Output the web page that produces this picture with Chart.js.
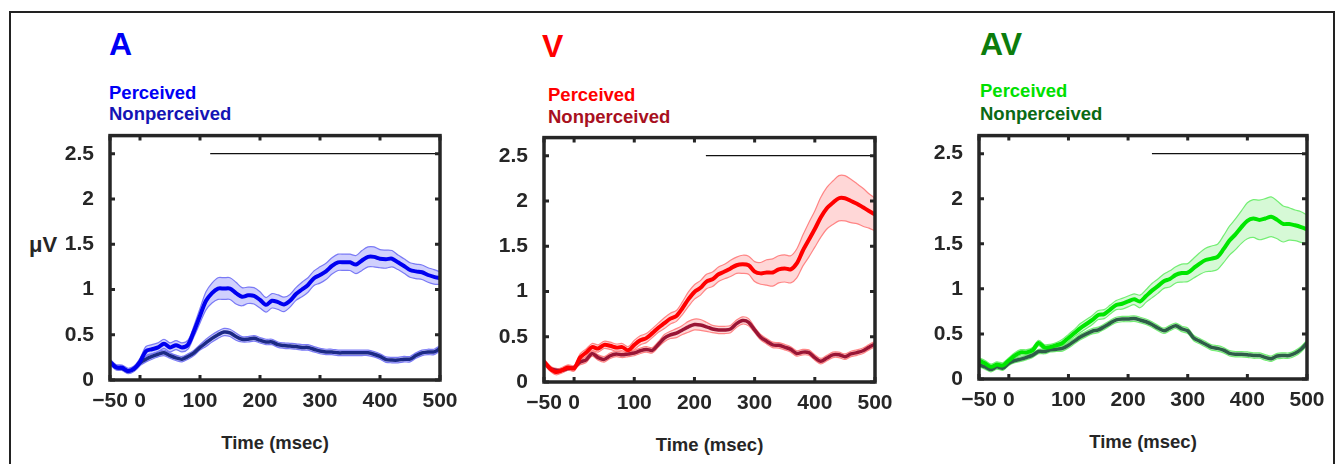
<!DOCTYPE html>
<html>
<head>
<meta charset="utf-8">
<script src="https://cdn.jsdelivr.net/npm/chart.js@4.4.1/dist/chart.umd.min.js"></script>
<style>
body{margin:0;background:#fff;width:1337px;height:464px;overflow:hidden;position:relative;font-family:"Liberation Sans",Arial,sans-serif;font-weight:bold;}
#frame{position:absolute;left:9px;top:11px;width:1322px;height:500px;border:2px solid #222;}
.t{position:absolute;line-height:1;white-space:nowrap;}
.big{font-size:32px;}
.leg{font-size:18.5px;}
.xl{font-size:18.5px;color:#262626;width:330px;text-align:center;}
canvas{position:absolute;}
</style>
</head>
<body>
<div id="frame"></div>

<div class="t big" style="left:109px;top:28px;color:#0000f5">A</div>
<div class="t leg" style="left:109px;top:84px;color:#0000f5">Perceived</div>
<div class="t leg" style="left:109px;top:105px;color:#1414b4">Nonperceived</div>
<div class="t" style="left:29px;top:234px;font-size:22px;color:#262626">μV</div>
<div class="t xl" style="left:110px;top:434px">Time (msec)</div>

<div class="t big" style="left:542px;top:30px;color:#ff0000">V</div>
<div class="t leg" style="left:548px;top:86px;color:#ff0000">Perceived</div>
<div class="t leg" style="left:548px;top:108px;color:#a8101e">Nonperceived</div>
<div class="t xl" style="left:544px;top:436px;width:331px">Time (msec)</div>

<div class="t big" style="left:980px;top:28px;color:#0c7c0c">AV</div>
<div class="t leg" style="left:980px;top:82px;color:#00e000">Perceived</div>
<div class="t leg" style="left:980px;top:105px;color:#0a6a14">Nonperceived</div>
<div class="t xl" style="left:979px;top:433px;width:328px">Time (msec)</div>

<canvas id="chartA"></canvas>
<canvas id="chartV"></canvas>
<canvas id="chartAV"></canvas>

<script>
// time axis (msec)
const times = [-50,-40,-30,-20,-10,0,10,20,30,40,50,60,70,80,
90,100,110,120,130,140,150,160,
170,180,190,200,210,220,230,240,250,
260,270,280,290,300,310,320,330,340,350,
360,370,380,390,400,410,420,430,440,450,460,470,480,490,500];

const xTicks = [-50,0,100,200,300,400,500];
const yTicks = [0,0.5,1,1.5,2,2.5];

// A
const aPerceived = [0.2,0.14,0.135,0.1,0.125,0.2,0.32,0.34,0.36,0.4,0.36,0.385,0.36,0.39,
0.54,0.71,0.875,0.96,1.01,1.01,1.01,0.96,
0.92,0.935,0.93,0.885,0.83,0.875,0.86,0.835,0.875,
0.95,1.0,1.05,1.125,1.16,1.2,1.26,1.3,1.3,1.3,
1.275,1.32,1.36,1.36,1.34,1.335,1.34,1.3,1.26,1.215,1.2,1.19,1.16,1.14,1.125];
const aPerceivedSem = [0.03,0.03,0.03,0.03,0.03,0.04,0.05,0.05,0.05,0.05,0.05,0.05,0.05,0.05,
0.06,0.08,0.1,0.11,0.12,0.12,0.12,0.12,
0.1,0.09,0.09,0.09,0.08,0.08,0.08,0.08,0.07,
0.07,0.08,0.08,0.08,0.09,0.09,0.09,0.09,0.09,0.09,
0.1,0.11,0.11,0.11,0.1,0.1,0.09,0.08,0.08,0.08,0.08,0.08,0.08,0.08,0.07];
const aNonperceived = [0.2,0.14,0.13,0.1,0.12,0.19,0.23,0.26,0.285,0.3,0.27,0.245,0.23,0.26,
0.3,0.36,0.41,0.46,0.5,0.53,0.52,0.48,
0.45,0.45,0.46,0.44,0.42,0.42,0.39,0.38,0.375,
0.37,0.36,0.36,0.34,0.32,0.31,0.31,0.3,0.3,0.3,
0.3,0.3,0.3,0.285,0.26,0.225,0.22,0.22,0.23,0.23,0.27,0.3,0.31,0.31,0.35];
const aNonperceivedSem = [0.02,0.02,0.02,0.02,0.02,0.03,0.03,0.03,0.03,0.03,0.03,0.03,0.03,0.03,
0.03,0.03,0.04,0.04,0.04,0.04,0.04,0.04,
0.03,0.03,0.03,0.03,0.03,0.03,0.03,0.03,0.03,
0.03,0.03,0.03,0.03,0.03,0.03,0.03,0.03,0.03,0.03,
0.03,0.03,0.03,0.03,0.03,0.03,0.03,0.03,0.03,0.03,0.03,0.03,0.03,0.03,0.03];
const aSig = [117,500];

// V
const vPerceived = [0.225,0.15,0.11,0.13,0.16,0.15,0.27,0.325,0.385,0.37,0.41,0.4,0.38,0.385,
0.35,0.41,0.46,0.485,0.54,0.6,0.65,0.7,
0.73,0.815,0.915,0.995,1.04,1.11,1.135,1.19,1.22,
1.255,1.29,1.3,1.29,1.22,1.2,1.21,1.21,1.245,1.255,
1.245,1.31,1.45,1.57,1.69,1.82,1.92,1.98,2.03,2.03,2.0,1.97,1.93,1.89,1.85];
const vPerceivedSem = [0.03,0.03,0.03,0.03,0.03,0.03,0.04,0.04,0.04,0.04,0.04,0.04,0.04,0.04,
0.04,0.05,0.05,0.05,0.05,0.05,0.06,0.06,
0.06,0.07,0.08,0.08,0.08,0.08,0.08,0.08,0.08,
0.09,0.09,0.1,0.1,0.11,0.12,0.14,0.15,0.15,0.15,
0.15,0.16,0.17,0.19,0.2,0.22,0.23,0.24,0.25,0.25,0.24,0.22,0.21,0.19,0.18];
const vNonperceived = [0.22,0.15,0.13,0.13,0.15,0.16,0.22,0.245,0.315,0.27,0.25,0.29,0.31,0.3,
0.31,0.32,0.345,0.36,0.35,0.415,0.485,0.52,
0.54,0.575,0.61,0.635,0.63,0.61,0.585,0.575,0.575,
0.585,0.645,0.68,0.66,0.575,0.495,0.45,0.41,0.405,0.385,
0.36,0.315,0.33,0.325,0.27,0.23,0.265,0.3,0.3,0.28,0.31,0.325,0.345,0.385,0.42];
const vNonperceivedSem = [0.02,0.02,0.02,0.02,0.02,0.02,0.03,0.03,0.03,0.03,0.03,0.03,0.03,0.03,
0.03,0.03,0.03,0.03,0.03,0.03,0.04,0.04,
0.05,0.05,0.06,0.06,0.06,0.05,0.04,0.04,0.04,
0.04,0.04,0.04,0.04,0.03,0.03,0.03,0.03,0.03,0.03,
0.03,0.03,0.03,0.03,0.03,0.03,0.03,0.03,0.03,0.03,0.03,0.03,0.03,0.03,0.03];
const vSig = [219,500];

// AV
const avPerceived = [0.205,0.175,0.135,0.16,0.15,0.205,0.26,0.295,0.295,0.32,0.4,0.35,0.355,0.375,
0.4,0.455,0.51,0.565,0.61,0.655,0.71,0.72,
0.77,0.82,0.835,0.86,0.885,0.86,0.92,0.98,1.03,
1.085,1.11,1.155,1.175,1.18,1.23,1.28,1.32,1.335,1.355,
1.44,1.535,1.605,1.685,1.755,1.78,1.765,1.78,1.8,1.765,1.72,1.72,1.705,1.685,1.66];
const avPerceivedSem = [0.03,0.03,0.03,0.03,0.03,0.03,0.03,0.03,0.03,0.03,0.03,0.03,0.03,0.03,
0.04,0.04,0.04,0.05,0.05,0.05,0.05,0.05,
0.05,0.05,0.06,0.06,0.06,0.07,0.07,0.08,0.08,
0.08,0.09,0.09,0.1,0.1,0.11,0.12,0.13,0.14,0.14,
0.15,0.16,0.17,0.18,0.2,0.21,0.22,0.22,0.22,0.21,0.2,0.18,0.17,0.17,0.16];
const avNonperceived = [0.16,0.135,0.105,0.135,0.12,0.175,0.205,0.22,0.24,0.265,0.305,0.305,0.325,0.33,
0.34,0.375,0.42,0.465,0.5,0.53,0.545,0.58,
0.62,0.655,0.665,0.665,0.67,0.655,0.635,0.605,0.565,
0.535,0.565,0.59,0.555,0.535,0.455,0.42,0.385,0.35,0.34,
0.32,0.285,0.275,0.275,0.27,0.26,0.26,0.24,0.225,0.255,0.26,0.26,0.285,0.33,0.4];
const avNonperceivedSem = [0.025,0.025,0.025,0.025,0.025,0.025,0.025,0.025,0.025,0.025,0.025,0.025,0.025,0.025,
0.03,0.03,0.03,0.03,0.03,0.03,0.03,0.03,
0.03,0.03,0.03,0.03,0.03,0.03,0.03,0.03,0.03,
0.03,0.03,0.03,0.03,0.03,0.03,0.03,0.03,0.03,0.03,
0.03,0.03,0.03,0.03,0.03,0.03,0.03,0.03,0.03,0.03,0.03,0.03,0.03,0.03,0.03];
const avSig = [240,500];


const axisColor = "#262626";
const tickFont = {family:"'Liberation Sans', Arial, sans-serif", size:21, weight:"bold"};

// matlab style box with inward ticks on all four sides
const boxAxes = {
  id:"boxAxes",
  afterDraw(chart){
    const ctx = chart.ctx;
    const a = chart.chartArea;
    const x = chart.scales.x;
    const y = chart.scales.y;
    ctx.save();
    ctx.strokeStyle = axisColor;
    ctx.lineWidth = 3;
    ctx.beginPath();
    xTicks.forEach(v => {
      let px = x.getPixelForValue(v);
      ctx.moveTo(px,a.bottom); ctx.lineTo(px,a.bottom-5);
      ctx.moveTo(px,a.top); ctx.lineTo(px,a.top+5);
    });
    yTicks.forEach(v => {
      let py = y.getPixelForValue(v);
      ctx.moveTo(a.left,py); ctx.lineTo(a.left+5,py);
      ctx.moveTo(a.right,py); ctx.lineTo(a.right-5,py);
    });
    ctx.stroke();
    ctx.lineWidth = 3.5;
    ctx.strokeRect(a.left,a.top,a.right-a.left,a.bottom-a.top);
    ctx.restore();
  }
};

function pts(vals){
  return times.map((t,i) => ({x:t, y:vals[i]}));
}
function band(vals,sem,sign){
  return times.map((t,i) => ({x:t, y:vals[i]+sign*sem[i]}));
}

function makePanel(id, box, perc, percSem, non, nonSem, sig, c){
  const padL = 80, padT = 14, padR = 30, padB = 40;
  const el = document.getElementById(id);
  el.width = box.right-box.left+padL+padR;
  el.height = box.bottom-box.top+padT+padB;
  el.style.left = (box.left-padL)+"px";
  el.style.top = (box.top-padT)+"px";

  const edge = {borderColor:c.edge, borderWidth:1.2, pointRadius:0, tension:0.3};

  return new Chart(el,{
    type:"line",
    data:{
      datasets:[
        {data:pts(perc), borderColor:c.perc, borderWidth:4, pointRadius:0, tension:0.3, fill:false},
        {data:pts(non), borderColor:c.non, borderWidth:3.5, pointRadius:0, tension:0.3, fill:false},
        {data:[{x:sig[0],y:2.5},{x:sig[1],y:2.5}], borderColor:"#111", borderWidth:1.3, pointRadius:0, fill:false},
        Object.assign({data:band(perc,percSem,1), fill:false}, edge),
        Object.assign({data:band(perc,percSem,-1), fill:"-1", backgroundColor:c.fill}, edge),
        Object.assign({data:band(non,nonSem,1), fill:false}, edge),
        Object.assign({data:band(non,nonSem,-1), fill:"-1", backgroundColor:c.fill}, edge)
      ]
    },
    options:{
      responsive:false,
      animation:false,
      devicePixelRatio:1,
      layout:{padding:{left:0, top:padT, right:padR, bottom:0}},
      plugins:{legend:{display:false}, tooltip:{enabled:false}},
      scales:{
        x:{
          type:"linear", min:-50, max:500,
          grid:{display:false}, border:{display:false},
          afterBuildTicks(s){ s.ticks = xTicks.map(v => ({value:v})); },
          afterFit(s){ s.height = padB; },
          ticks:{font:tickFont, color:axisColor, padding:1, maxRotation:0, autoSkip:false,
            callback:v => v < 0 ? "\u2212" + Math.abs(v) : String(v)}
        },
        y:{
          type:"linear", min:0, max:2.7,
          grid:{display:false}, border:{display:false},
          afterBuildTicks(s){ s.ticks = yTicks.map(v => ({value:v})); },
          afterFit(s){ s.width = padL; },
          ticks:{font:tickFont, color:axisColor, padding:8, autoSkip:false,
            callback:v => String(v)}
        }
      }
    },
    plugins:[boxAxes]
  });
}

makePanel("chartA", {left:110, right:440, top:129, bottom:380},
  aPerceived, aPerceivedSem, aNonperceived, aNonperceivedSem, aSig,
  {perc:"#0000f0", non:"#1c2a86", edge:"#7a7af5", fill:"rgba(110,110,250,0.32)"});

makePanel("chartV", {left:544, right:875, top:131, bottom:382},
  vPerceived, vPerceivedSem, vNonperceived, vNonperceivedSem, vSig,
  {perc:"#ff0000", non:"#9a1535", edge:"#ff8585", fill:"rgba(255,110,110,0.28)"});

makePanel("chartAV", {left:979, right:1307, top:129, bottom:379},
  avPerceived, avPerceivedSem, avNonperceived, avNonperceivedSem, avSig,
  {perc:"#00e600", non:"#2e5e48", edge:"#74ee74", fill:"rgba(90,230,90,0.25)"});
</script>
</body>
</html>
